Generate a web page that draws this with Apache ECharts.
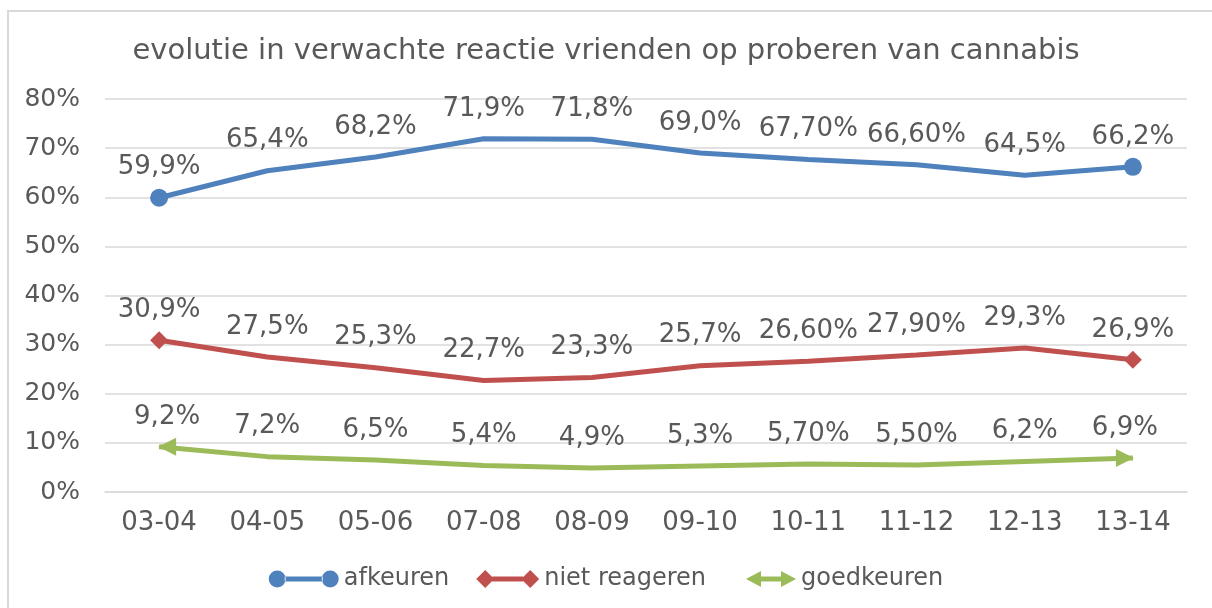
<!DOCTYPE html>
<html>
<head>
<meta charset="utf-8">
<script src="https://cdn.jsdelivr.net/npm/echarts@6/dist/echarts.min.js"></script>
<style>
  html, body { margin: 0; padding: 0; background: #fff; }
  #chart { width: 1212px; height: 608px; }
</style>
</head>
<body>
<div id="chart"></div>
<script>
// schooljaren
var categories = ['03-04', '04-05', '05-06', '07-08', '08-09', '09-10', '10-11', '11-12', '12-13', '13-14'];

// waarden in procent
var afkeuren = [59.9, 65.4, 68.2, 71.9, 71.8, 69.0, 67.7, 66.6, 64.5, 66.2];
var nietReageren = [30.9, 27.5, 25.3, 22.7, 23.3, 25.7, 26.6, 27.9, 29.3, 26.9];
var goedkeuren = [9.2, 7.2, 6.5, 5.4, 4.9, 5.3, 5.7, 5.5, 6.2, 6.9];

// labels zoals in de figuur
var afkeurenLabels = ['59,9%', '65,4%', '68,2%', '71,9%', '71,8%', '69,0%', '67,70%', '66,60%', '64,5%', '66,2%'];
var nietReagerenLabels = ['30,9%', '27,5%', '25,3%', '22,7%', '23,3%', '25,7%', '26,60%', '27,90%', '29,3%', '26,9%'];
var goedkeurenLabels = ['9,2%', '7,2%', '6,5%', '5,4%', '4,9%', '5,3%', '5,70%', '5,50%', '6,2%', '6,9%'];

var yTicks = [0, 10, 20, 30, 40, 50, 60, 70, 80];

var font = 'DejaVu Sans, Verdana, sans-serif';
var textColor = '#595959';

// alleen zichtbare markers op eerste en laatste punt
function endPoints(values, symbol, rotFirst, rotLast, offFirst, offLast) {
    return values.map(function (v, i) {
        if (i === 0) return { value: v, symbol: symbol, symbolRotate: rotFirst, symbolOffset: offFirst };
        if (i === values.length - 1) return { value: v, symbol: symbol, symbolRotate: rotLast, symbolOffset: offLast };
        return { value: v, symbol: 'circle', itemStyle: { color: 'rgba(0,0,0,0)' } };
    });
}

function makeSeries(name, values, labels, color, symbol, size, rotFirst, rotLast, offFirst, offLast) {
    return {
        name: name,
        type: 'line',
        data: endPoints(values, symbol, rotFirst, rotLast, offFirst || [0, 0], offLast || [0, 0]),
        showAllSymbol: true,
        symbolSize: size,
        lineStyle: { color: color, width: 5 },
        itemStyle: { color: color },
        label: {
            show: true,
            position: 'top',
            distance: 8,
            color: textColor,
            fontFamily: font,
            fontSize: 26,
            formatter: function (p) { return labels[p.dataIndex]; }
        },
        emphasis: { disabled: true },
        z: 3
    };
}

// kleine onzichtbare hoekpunten houden de iconbreedte vast
var pad = ' M0,0 L0.01,0 L0,0.01 Z M70,18 L69.99,18 L70,17.99 Z';

var myChart = echarts.init(document.getElementById('chart'));

var option = {
    backgroundColor: '#fff',
    animation: false,
    title: {
        text: 'evolutie in verwachte reactie vrienden op proberen van cannabis',
        left: 'center',
        top: 32,
        textStyle: {
            color: textColor,
            fontFamily: font,
            fontWeight: 'normal',
            fontSize: 29
        }
    },
    graphic: [{
        type: 'rect',
        shape: { x: 8, y: 11, width: 1220, height: 620 },
        style: { fill: 'none', stroke: '#d9d9d9', lineWidth: 2 },
        silent: true
    }],
    grid: {
        left: 105,
        right: 25,
        top: 99,
        bottom: 116
    },
    legend: {
        bottom: 12,
        left: 'center',
        itemWidth: 70,
        itemHeight: 18,
        itemGap: 20,
        textStyle: { color: textColor, fontFamily: font, fontSize: 24 },
        data: [
            { name: 'afkeuren', icon: 'path://M0,9 A8.5,8.5 0 1,0 17,9 A8.5,8.5 0 1,0 0,9 Z M16,6.5 L54,6.5 L54,11.5 L16,11.5 Z M53,9 A8.5,8.5 0 1,0 70,9 A8.5,8.5 0 1,0 53,9 Z' + pad },
            { name: 'niet reageren', icon: 'path://M7,9 L16,0 L25,9 L16,18 Z M23,6.5 L54,6.5 L54,11.5 L23,11.5 Z M52,9 L61,0 L70,9 L61,18 Z' + pad },
            { name: 'goedkeuren', icon: 'path://M20,9 L35,1 L35,6.5 L55,6.5 L55,1 L70,9 L55,17 L55,11.5 L35,11.5 L35,17 Z' + pad }
        ]
    },
    xAxis: {
        type: 'category',
        data: categories,
        boundaryGap: true,
        axisLine: { lineStyle: { color: '#d9d9d9', width: 1.5 } },
        axisTick: { show: false },
        axisLabel: { color: textColor, fontFamily: font, fontSize: 26, margin: 18 }
    },
    yAxis: {
        type: 'value',
        min: yTicks[0],
        max: yTicks[yTicks.length - 1],
        interval: 10,
        axisLine: { show: false },
        axisTick: { show: false },
        splitLine: { lineStyle: { color: '#d9d9d9', width: 1.5 } },
        axisLabel: {
            color: textColor,
            fontFamily: font,
            fontSize: 25,
            margin: 25,
            formatter: '{value}%'
        }
    },
    series: [
        makeSeries('afkeuren', afkeuren, afkeurenLabels, '#4f81bd', 'circle', 18, 0, 0),
        makeSeries('niet reageren', nietReageren, nietReagerenLabels, '#c0504d', 'diamond', 18, 0, 0),
        makeSeries('goedkeuren', goedkeuren, goedkeurenLabels, '#9bbb59', 'triangle', 18, 90, -90, [8, 0], [-8, 0])
    ]
};

myChart.setOption(option);
</script>
</body>
</html>
